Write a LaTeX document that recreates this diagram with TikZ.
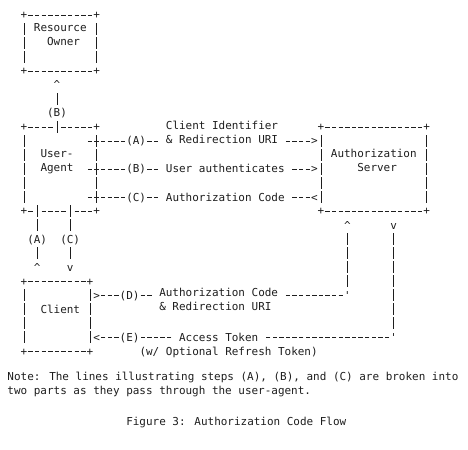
\documentclass[tikz,border=0pt]{standalone}
\usepackage{fontspec}
\setmainfont{DejaVu Sans Mono}
\usetikzlibrary{fit}
\definecolor{ink}{HTML}{1E1E1E}
\newcommand{\lnstrut}{\rule[-3pt]{0pt}{14pt}}

\begin{document}
\begin{tikzpicture}[
    x=6.6pt, y=-14pt,
    every node/.style={font=\fontsize{10.96pt}{14pt}\selectfont, text=ink},
    txt/.style={inner sep=0pt, outer sep=0pt, execute at begin node=\lnstrut, execute at end node=\lnstrut},
    glyph/.style={txt, minimum width=6.6pt, minimum height=14pt},
    gap/.style={glyph, fill=white},
    box/.style={inner sep=0pt, outer sep=0pt},
    tag/.style={txt, fill=white},
    lbl/.style={txt, fill=white, inner xsep=6.6pt},
    hline/.style={draw=ink, line width=0.9pt, dash pattern=on 4.29pt off 2.31pt, dash phase=5.445pt},
    vline/.style={draw=ink, line width=0.9pt, dash pattern=on 11.2pt off 2.8pt, dash phase=12.6pt}
]
\useasboundingbox (-1.636,-1.071) rectangle (69.273,31.071);

% Boxes
\node[box, fit={(2,0) (13,4)}] (owner) {};
\node[box, fit={(2,8) (13,14)}] (agent) {};
\node[box, fit={(47,8) (63,14)}] (server) {};
\node[box, fit={(2,19) (12,24)}] (client) {};

\foreach \b in {owner,agent,server,client} {
    \node[glyph] (\b-nw) at (\b.north west) {+};
    \node[glyph] (\b-ne) at (\b.north east) {+};
    \node[glyph] (\b-sw) at (\b.south west) {+};
    \node[glyph] (\b-se) at (\b.south east) {+};
    \draw[hline] (\b-nw.east) -- (\b-ne.west);
    \draw[hline] (\b-sw.east) -- (\b-se.west);
    \draw[vline] (\b-nw.south) -- (\b-sw.north);
    \draw[vline] (\b-ne.south) -- (\b-se.north);
}

\node[txt, align=left] (owner-txt) at (7.5,1.5) {Resource\\\hphantom{Re}Owner};
\node[txt, align=left] (agent-txt) at (7,10.5) {User-\\Agent};
\node[txt, align=left] (server-txt) at (55,10.5) {Authorization\\\hphantom{Auth}Server};
\node[txt] (client-txt) at (7.5,21) {Client};

% (B) up to the resource owner
\node[glyph] (tipB) at (7,5) {\textasciicircum};
\node[gap] (gapB) at (agent.north -| tipB) {};
\draw[vline] (gapB.south) -- (tipB.south);
\node[tag] at (7,7) {(B)};

% (A), (B), (C) between user-agent and server
\foreach \r/\t/\s in {9/>/A, 11/>/B, 13/</C} {
    \coordinate (src\s) at (11.5,\r);
    \node[glyph] (head\s) at (46,\r) {\t};
    \draw[hline] (src\s) -- (head\s.west);
    \node[tag] at (19,\r) {(\s)};
}
\node[lbl, align=left] (lblA) at (32,8.5) {Client Identifier\\\& Redirection URI};
\node[lbl] (lblB) at (32.5,11) {User authenticates};
\node[lbl] (lblC) at (32.5,13) {Authorization Code};

% (A), (C) between client and user-agent
\node[glyph] (tipAc) at (4,18) {\textasciicircum};
\node[glyph] (tipCc) at (9,18) {v};
\node[gap] (gapA) at (agent.south -| tipAc) {};
\node[gap] (gapC) at (agent.south -| tipCc) {};
\draw[vline] (tipAc.north) -- (gapA.north);
\draw[vline] (gapC.north) -- (tipCc.north);
\node[tag] at (4,16) {(A)};
\node[tag] at (9,16) {(C)};

% (D) client to server
\node[glyph] (tailD) at (13,20) {>};
\node[glyph] (cornD) at (51,20) {\textquotesingle};
\node[glyph] (tipD) at (51,15) {\textasciicircum};
\draw[hline] (tailD.east) -- (cornD.west);
\draw[vline] (cornD.north) -- (tipD.south);
\node[tag] at (18,20) {(D)};
\node[lbl, align=left, anchor=north west] (lblD) at (21.5,19.5) {Authorization Code\\\& Redirection URI};

% (E) server to client
\node[glyph] (tailE) at (58,15) {v};
\node[glyph] (cornE) at (58,23) {\textquotesingle};
\node[glyph] (headE) at (13,23) {<};
\draw[vline] (tailE.south) -- (cornE.north);
\draw[hline] (cornE.west) -- (headE.east);
\node[tag] at (18,23) {(E)};
\node[lbl] (lblE) at (31.5,23) {Access Token};
\node[txt] (lblE2) at (33,24) {(w/ Optional Refresh Token)};

% Note and caption
\node[txt, align=left, anchor=north west] (note) at (-0.5,25.5) {Note: The lines illustrating steps (A), (B), and (C) are broken into\\two parts as they pass through the user-agent.};
\node[txt, anchor=west] (caption) at (17.5,29) {Figure 3: Authorization Code Flow};

\end{tikzpicture}
\end{document}
